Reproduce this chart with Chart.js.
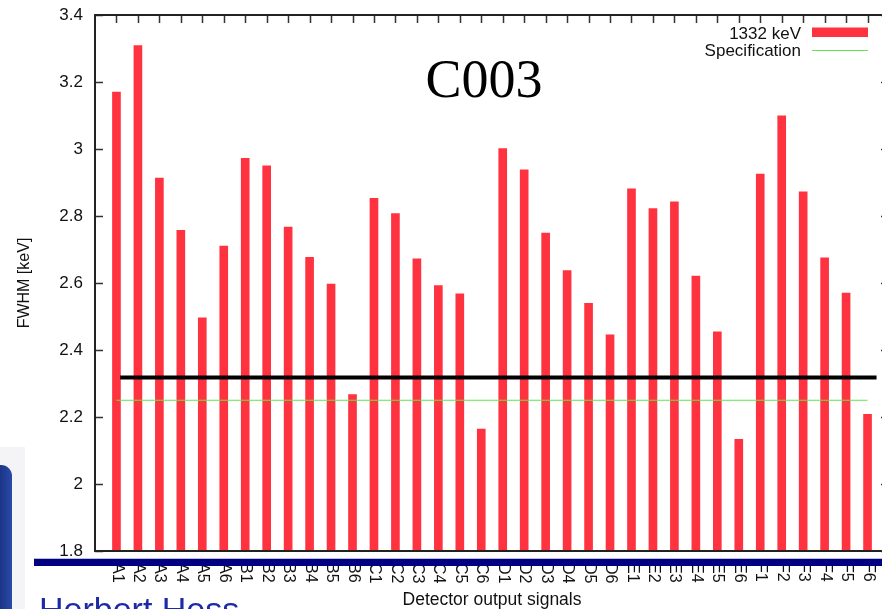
<!DOCTYPE html>
<html>
<head>
<meta charset="utf-8">
<script src="https://cdn.jsdelivr.net/npm/chart.js@4.4.1/dist/chart.umd.min.js"></script>
<style>
    html, body { margin: 0; padding: 0; background: #fff; overflow: hidden; }
    #wrap { position: relative; width: 882px; height: 609px; overflow: hidden; }
    #fwhmChart { position: absolute; left: 0; top: 0; }
    .side-panel { position: absolute; left: 0; top: 447px; width: 25px; height: 162px; background: #f4f4f7; }
    .side-tab { position: absolute; left: 0; top: 465px; width: 12px; height: 144px; background: linear-gradient(90deg, #1b3587, #2a4aa8); border-top-right-radius: 11px; }
    .band { position: absolute; left: 34px; right: 0; top: 558px; height: 7px; background: #000080; border-top: 1px solid #b8bde0; }
    .author { position: absolute; left: 39px; top: 592px; font: 34px/34px 'Liberation Sans', Arial, sans-serif; color: #1c2aa6; white-space: nowrap; }
</style>
</head>
<body>
<div id="wrap">
    <div class="side-panel"></div>
    <div class="side-tab"></div>
    <canvas id="fwhmChart" width="892" height="609"></canvas>
    <div class="band"></div>
    <div class="author">Herbert Hess</div>
</div>
<script>
// detector channels, one bar each
const channels = [
    'A1', 'A2', 'A3', 'A4', 'A5', 'A6',
    'B1', 'B2', 'B3', 'B4', 'B5', 'B6',
    'C1', 'C2', 'C3', 'C4', 'C5', 'C6',
    'D1', 'D2', 'D3', 'D4', 'D5', 'D6',
    'E1', 'E2', 'E3', 'E4', 'E5', 'E6',
    'F1', 'F2', 'F3', 'F4', 'F5', 'F6'
];

// FWHM at 1332 keV [keV]
const fwhm1332 = [
    3.170, 3.309, 2.913, 2.757, 2.496, 2.710,
    2.972, 2.950, 2.767, 2.677, 2.597, 2.267,
    2.853, 2.807, 2.672, 2.592, 2.568, 2.164,
    3.001, 2.938, 2.749, 2.637, 2.539, 2.445,
    2.881, 2.822, 2.842, 2.621, 2.454, 2.133,
    2.925, 3.099, 2.872, 2.675, 2.570, 2.208
];

// specification line (green) and the black reference line
const specX = [0, 35];
const specY = [2.25, 2.25];
const refX = [0.17, 35.42];
const refY = [2.318, 2.318];

const yTicks = [1.8, 2.0, 2.2, 2.4, 2.6, 2.8, 3.0, 3.2, 3.4];

const SANS = "'Liberation Sans', Arial, sans-serif";

// frame, inward tick marks, rotated channel labels, legend and the C003 label
const decorPlugin = {
    id: 'decor',
    afterDatasetsDraw(chart) {
        const ctx = chart.ctx;
        const area = chart.chartArea;
        const x = chart.scales.x;
        const y = chart.scales.y;
        ctx.save();

        // ticks
        ctx.strokeStyle = '#333';
        ctx.lineWidth = 1.5;
        ctx.beginPath();
        yTicks.forEach(v => {
            const py = Math.round(y.getPixelForValue(v)) + 0.5;
            ctx.moveTo(area.left, py); ctx.lineTo(area.left + 8, py);
            ctx.moveTo(area.right, py); ctx.lineTo(area.right - 8, py);
        });
        channels.forEach((c, i) => {
            const px = Math.round(x.getPixelForValue(i)) + 0.5;
            ctx.moveTo(px, area.top); ctx.lineTo(px, area.top + 8);
        });
        ctx.stroke();

        // frame
        ctx.lineWidth = 2;
        ctx.strokeStyle = '#222';
        ctx.strokeRect(area.left, area.top, area.right - area.left, area.bottom - area.top);

        // channel labels, rotated clockwise (read top to bottom)
        ctx.fillStyle = '#111';
        ctx.font = '16px ' + SANS;
        ctx.textAlign = 'left';
        ctx.textBaseline = 'middle';
        channels.forEach((c, i) => {
            ctx.save();
            ctx.translate(x.getPixelForValue(i) + 0.5, area.bottom + 12);
            ctx.rotate(Math.PI / 2);
            ctx.fillText(c, 0, 0);
            ctx.restore();
        });

        // legend
        const bars = chart.data.datasets[0];
        const spec = chart.data.datasets[1];
        ctx.font = '17px ' + SANS;
        ctx.textAlign = 'right';
        ctx.textBaseline = 'alphabetic';
        ctx.fillStyle = '#111';
        ctx.fillText(bars.label, 801, 39);
        ctx.fillText(spec.label, 801, 56);
        ctx.fillStyle = bars.backgroundColor;
        ctx.fillRect(812, 27.5, 56, 9.5);
        ctx.strokeStyle = spec.borderColor;
        ctx.lineWidth = 1;
        ctx.beginPath();
        ctx.moveTo(812, 50.5); ctx.lineTo(868, 50.5);
        ctx.stroke();

        // detector name
        ctx.fillStyle = '#000';
        ctx.font = "54px 'Liberation Serif', 'Times New Roman', serif";
        ctx.textAlign = 'center';
        ctx.fillText('C003', 484, 97);

        ctx.restore();
    }
};

const ctx = document.getElementById('fwhmChart').getContext('2d');
new Chart(ctx, {
    type: 'bar',
    data: {
        datasets: [
            {
                type: 'bar',
                label: '1332 keV',
                data: fwhm1332.map((v, i) => ({ x: i, y: v })),
                backgroundColor: '#ff3340',
                barThickness: 8,
                order: 3
            },
            {
                type: 'line',
                label: 'Specification',
                data: specX.map((v, i) => ({ x: v, y: specY[i] })),
                borderColor: '#5ee84a',
                borderWidth: 1,
                pointRadius: 0,
                order: 2
            },
            {
                type: 'line',
                label: 'reference',
                data: refX.map((v, i) => ({ x: v, y: refY[i] })),
                borderColor: '#000',
                borderWidth: 4,
                pointRadius: 0,
                order: 1
            }
        ]
    },
    options: {
        responsive: false,
        animation: false,
        layout: { padding: { left: 0, top: 15, right: 3, bottom: 0 } },
        plugins: { legend: { display: false }, tooltip: { enabled: false } },
        scales: {
            x: {
                type: 'linear',
                min: -1,
                max: 36,
                offset: false,
                grid: { display: false, drawTicks: false, offset: false },
                border: { display: false },
                ticks: { display: false },
                title: {
                    display: true,
                    text: 'Detector output signals',
                    color: '#111',
                    font: { family: SANS, size: 17.5, lineHeight: 1.0 },
                    padding: 0
                },
                afterFit: scale => {
                    scale.height = 58;
                    scale.paddingLeft = 0;
                    scale.paddingRight = 0;
                }
            },
            y: {
                min: 1.8,
                max: 3.4,
                grid: { display: false, drawTicks: false },
                border: { display: false },
                ticks: {
                    stepSize: 0.2,
                    padding: 12,
                    color: '#111',
                    font: { family: SANS, size: 17 },
                    callback: v => String(+v.toFixed(1))
                },
                title: {
                    display: true,
                    text: 'FWHM [keV]',
                    color: '#111',
                    font: { family: SANS, size: 16 },
                    padding: { top: 15, bottom: 0 }
                },
                afterFit: scale => {
                    scale.width = 95;
                    scale.paddingTop = 0;
                    scale.paddingBottom = 0;
                }
            }
        }
    },
    plugins: [decorPlugin]
});
</script>
</body>
</html>
